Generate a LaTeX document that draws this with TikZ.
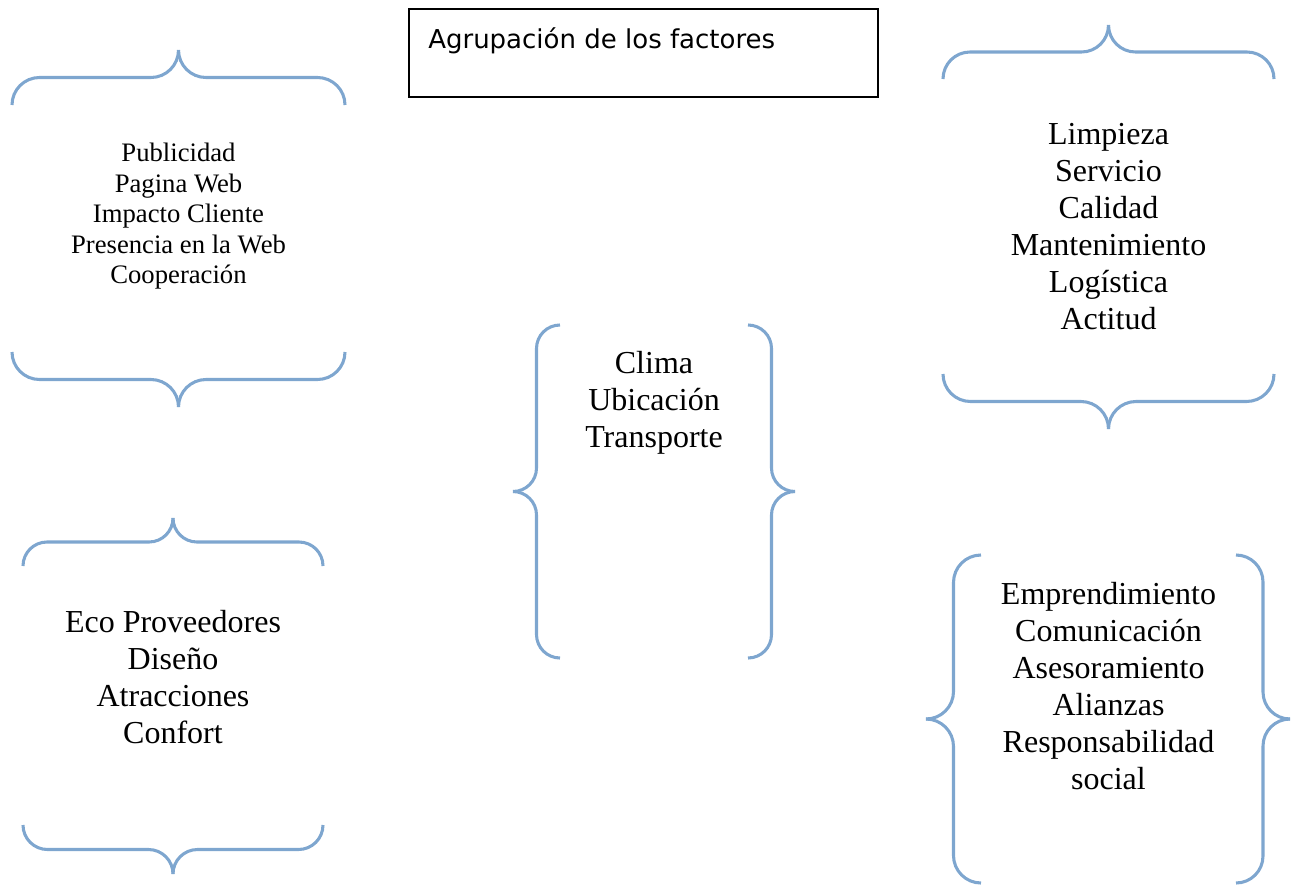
\documentclass[tikz,border=0pt]{standalone}
\usepackage{fontspec}
\setmainfont{Liberation Serif}
\newfontfamily\titlefont{DejaVu Sans}
\usetikzlibrary{positioning,calc}
\definecolor{bracecol}{RGB}{126,166,207}
\tikzstyle{braceline} = [line width=2.3pt, draw=bracecol]
\tikzstyle{small} = [align=center, inner sep=0pt, font=\fontsize{20pt}{22.9pt}\selectfont]
\tikzstyle{big} = [align=center, inner sep=0pt, font=\fontsize{24pt}{27.75pt}\selectfont]
\tikzstyle{titlebox} = [draw=black, line width=1.3pt, inner sep=0pt, minimum width=351.75pt, minimum height=66pt]
% horizontal brace: x left, x right, y of the ends, y of the tip
\def\hbrace(#1,#2,#3,#4){%
  \pgfmathsetmacro\bxm{(#1+#2)/2}%
  \pgfmathsetmacro\bym{(#3+#4)/2}%
  \pgfmathsetmacro\brr{abs(#3-#4)/2*0.75}%
  \draw[braceline, rounded corners=\brr pt] (#1,#3) -- (#1,\bym) -- (\bxm,\bym) -- (\bxm,#4);
  \draw[braceline, rounded corners=\brr pt] (#2,#3) -- (#2,\bym) -- (\bxm,\bym) -- (\bxm,#4);
}
% vertical brace: y top, y bottom, x of the ends, x of the tip
\def\vbrace(#1,#2,#3,#4){%
  \pgfmathsetmacro\bym{(#1+#2)/2}%
  \pgfmathsetmacro\bxm{(#3+#4)/2}%
  \pgfmathsetmacro\brr{abs(#3-#4)/2*0.75}%
  \draw[braceline, rounded corners=\brr pt] (#3,#1) -- (\bxm,#1) -- (\bxm,\bym) -- (#4,\bym);
  \draw[braceline, rounded corners=\brr pt] (#3,#2) -- (\bxm,#2) -- (\bxm,\bym) -- (#4,\bym);
}

\begin{document}
\begin{tikzpicture}[x=0.75pt,y=-0.75pt]
      \useasboundingbox (0,0) rectangle (1292,886);
      %%%%%%%%%%%%%%%%%%%%%%%%%%%%%%%%%%%%%%%
      \node (titulo) [titlebox, anchor=north west] at (408,8) {};
      \node (titulotxt) [anchor=base west, inner sep=0pt, font=\titlefont\fontsize{19.5pt}{22pt}\selectfont] at ($(titulo.north west)+(20,40)$) {Agrupación de los factores};
      %%%%%%%%%%%%%%%%%%%%%%%%%%%%%%%%%%%%%%%
      \node (promo) [small, anchor=north] at (178.5,143) {Publicidad\\Pagina Web\\Impacto Cliente\\Presencia en la Web\\Cooperación};
      \node (servicio) [big, anchor=north] at (1108.5,123) {Limpieza\\Servicio\\Calidad\\Mantenimiento\\Logística\\Actitud};
      \node (entorno) [big, anchor=north] at (654,351.5) {Clima\\Ubicación\\Transporte};
      \node (oferta) [big, anchor=north] at (173,610.5) {Eco Proveedores\\Diseño\\Atracciones\\Confort};
      \node (gestion) [big, anchor=north] at (1108.5,582.5) {Emprendimiento\\Comunicación\\Asesoramiento\\Alianzas\\Responsabilidad\\social};
      %%%%%%%%%%%%%%%%%%%%%%%%%%%%%%%%%%%%%%%
      \hbrace(12,345,105,50)
      \hbrace(12,345,352,407)
      \hbrace(943,1274,79,25)
      \hbrace(943,1274,374,429)
      \hbrace(23,323,566,518)
      \hbrace(23,323,825,874)
      \vbrace(325,658,560,513)
      \vbrace(325,658,748,795)
      \vbrace(555,883,981,926)
      \vbrace(555,883,1236,1290)
\end{tikzpicture}
\end{document}
